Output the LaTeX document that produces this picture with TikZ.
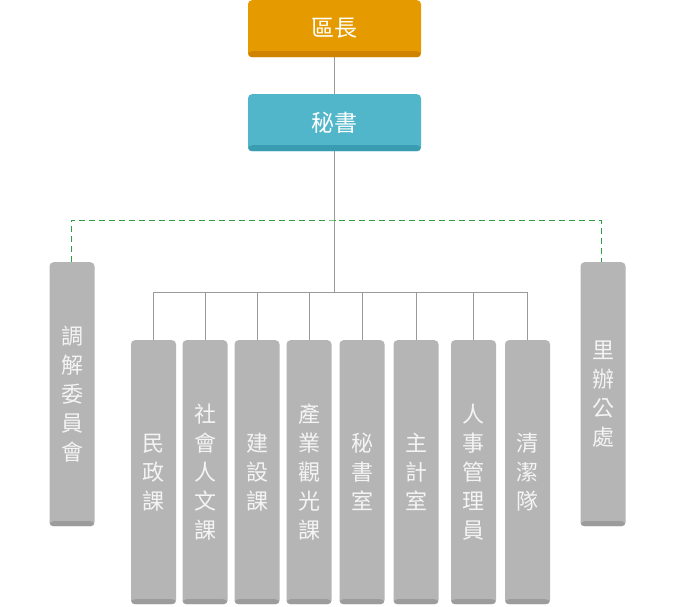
\documentclass[tikz,border=0pt]{standalone}
\usepackage{fontspec}
\newfontfamily\cjk{Noto Sans CJK TC}
\usetikzlibrary{backgrounds}
\definecolor{orangebox}{HTML}{E59A00}
\definecolor{orangeshadow}{HTML}{D08300}
\definecolor{tealbox}{HTML}{52B6CB}
\definecolor{tealshadow}{HTML}{3A9CB1}
\definecolor{graybox}{HTML}{B5B5B5}
\definecolor{grayshadow}{HTML}{9C9C9C}
\definecolor{graytext}{HTML}{F4F4F4}
\definecolor{linecol}{HTML}{9A9A9A}
\definecolor{dashgreen}{HTML}{2EA043}
\begin{document}
\begin{tikzpicture}[x=1pt,y=-1pt,
  base/.style={rounded corners=4pt, inner sep=0pt, anchor=north, align=center},
  strip/.style 2 args={path picture={\fill[#1] ([yshift=#2]path picture bounding box.south west) rectangle (path picture bounding box.south east);}},
  topbox/.style={base, minimum width=173pt, minimum height=57pt,
    font=\cjk\fontsize{23}{27}\selectfont, text=white},
  chiefbox/.style={topbox, fill=orangebox, strip={orangeshadow}{6pt}},
  secbox/.style={topbox, fill=tealbox, strip={tealshadow}{6pt}},
  unit/.style={base, minimum width=45pt, minimum height=264pt, fill=graybox,
    strip={grayshadow}{5pt}, text=graytext,
    font=\cjk\fontsize{22}{29}\selectfont},
  conn/.style={draw=linecol, line width=0.8pt},
  dashline/.style={draw=dashgreen, line width=0.9pt, dash pattern=on 6pt off 4pt}]
\useasboundingbox (0,0) rectangle (683,606);
\node[chiefbox] (chief) at (334.5,0) {區長};
\node[secbox] (sec) at (334.5,94) {秘書};
\node[unit] (med) at (72,262) {調\\解\\委\\員\\會};
\node[unit] (vil) at (603,262) {里\\辦\\公\\處};
\node[unit] (u1) at (153.5,340) {民\\政\\課};
\node[unit] (u2) at (205,340) {社\\會\\人\\文\\課};
\node[unit] (u3) at (257,340) {建\\設\\課};
\node[unit] (u4) at (309,340) {產\\業\\觀\\光\\課};
\node[unit] (u5) at (362,340) {秘\\書\\室};
\node[unit] (u6) at (416,340) {主\\計\\室};
\node[unit] (u7) at (473.5,340) {人\\事\\管\\理\\員};
\node[unit] (u8) at (527.5,340) {清\\潔\\隊};
\coordinate (bus) at (334.5,292);
\coordinate (dash) at (334.5,220);
\begin{scope}[on background layer]
  \fill[white] (0,0) rectangle (683,606);
  \draw[conn] (chief.south) -- (sec.north);
  \draw[conn] (sec.south) -- (bus);
  \foreach \n in {u1,u2,u3,u4,u5,u6,u7,u8} \draw[conn] (bus) -| (\n.north);
  \draw[dashline] ([xshift=-1pt]med.north) |- (dash) -| ([xshift=-2pt]vil.north);
\end{scope}
\end{tikzpicture}
\end{document}
